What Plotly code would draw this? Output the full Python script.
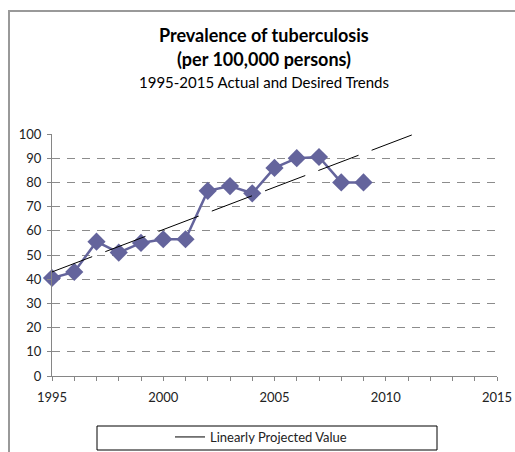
import plotly.graph_objects as go

years = [1995, 1996, 1997, 1998, 1999, 2000, 2001, 2002, 2003, 2004,
         2005, 2006, 2007, 2008, 2009]
prevalence = [40.5, 43, 55.5, 51, 55, 56.5, 56.5, 76.5, 78.5, 75.5,
              86, 90, 90.5, 80, 80]

trend_years = [1995, 1996, 1997, 1998, 1999, 2000, 2001, 2002, 2003, 2004,
               2005, 2006, 2007, 2008, 2009, 2010, 2011, 2012]
trend_values = [43, 46.5, 50, 53.5, 57, 60.5, 64, 67.5, 71, 74.5,
                78, 81.5, 85, 88.5, 92, 95.5, 99, 102.5]

title_1 = "Prevalence of tuberculosis"
title_2 = "(per 100,000 persons)"
subtitle = "1995-2015 Actual and Desired Trends"
legend_label = "Linearly Projected Value"

FONT = "Lato"
W, H = 515, 452
L, R, T, B = 52, 515 - 497, 134, 452 - 376
pw, ph = W - L - R, H - T - B

def px_x(p):
    return (p - L) / pw

def px_y(p):
    return (H - B - p) / ph

fig = go.Figure()

fig.add_trace(go.Scatter(
    x=years, y=prevalence, mode="lines+markers",
    line=dict(color="#64649c", width=2.5),
    marker=dict(symbol="diamond", size=14, color="#64649c"),
    showlegend=False, cliponaxis=False,
))

fig.add_trace(go.Scatter(
    x=trend_years, y=trend_values, mode="lines",
    line=dict(color="black", width=1, dash="43px,14px"),
    showlegend=False,
))

fig.add_trace(go.Scatter(
    x=[None], y=[None], mode="lines",
    line=dict(color="black", width=1),
    name=legend_label, showlegend=True,
))

fig.update_layout(
    width=W, height=H,
    margin=dict(l=L, r=R, t=T, b=B, pad=0, autoexpand=False),
    paper_bgcolor="white", plot_bgcolor="white",
    font=dict(family=FONT, size=13, color="#222222"),
    xaxis=dict(
        range=[1995, 2015], dtick=5, tick0=1995, automargin=False,
        showgrid=False, zeroline=False,
        showline=True, linecolor="#868686", linewidth=1,
        ticks="outside", ticklen=4, tickcolor="#868686",
        ticklabelstandoff=5,
        minor=dict(dtick=1, ticks="outside", ticklen=4, tickcolor="#868686", showgrid=False),
        tickfont=dict(family=FONT, size=13, color="#222222"),
        fixedrange=True,
    ),
    yaxis=dict(
        range=[0, 100], dtick=10, automargin=False,
        showgrid=True, gridcolor="#8c8c8c", gridwidth=1, griddash="8px,7px",
        zeroline=False,
        showline=True, linecolor="#868686", linewidth=1,
        ticks="outside", ticklen=4, tickcolor="#868686",
        ticklabelstandoff=3,
        tickfont=dict(family=FONT, size=13, color="#222222"),
        fixedrange=True,
    ),
    legend=dict(
        x=px_x(170), y=px_y(437), xanchor="left", yanchor="middle",
        bgcolor="rgba(0,0,0,0)", borderwidth=0,
        font=dict(family=FONT, size=13, color="#222222"),
    ),
    showlegend=True,
)

annotations = [
    dict(text="<b>" + title_1 + "</b>", x=px_x(264), y=px_y(35), size=18),
    dict(text="<b>" + title_2 + "</b>", x=px_x(264), y=px_y(59), size=18),
    dict(text=subtitle, x=px_x(264), y=px_y(82), size=15),
]
for a in annotations:
    fig.add_annotation(
        text=a["text"], x=a["x"], y=a["y"], xref="paper", yref="paper",
        xanchor="center", yanchor="middle", showarrow=False,
        font=dict(family=FONT, size=a["size"], color="black"),
    )

# chart border (left and top edges visible)
fig.add_shape(
    type="path", xref="paper", yref="paper",
    path=f"M {px_x(9)} {px_y(470)} L {px_x(9)} {px_y(11)} L {px_x(530)} {px_y(11)}",
    line=dict(color="#999999", width=2),
)
# legend box
fig.add_shape(
    type="rect", xref="paper", yref="paper",
    x0=px_x(97), x1=px_x(437), y0=px_y(450), y1=px_y(426),
    line=dict(color="black", width=1), fillcolor="rgba(0,0,0,0)",
)

fig.write_html(
    "out.html",
    config={"displayModeBar": False},
    post_script="document.body.style.margin='0';document.body.style.overflow='hidden';",
)
